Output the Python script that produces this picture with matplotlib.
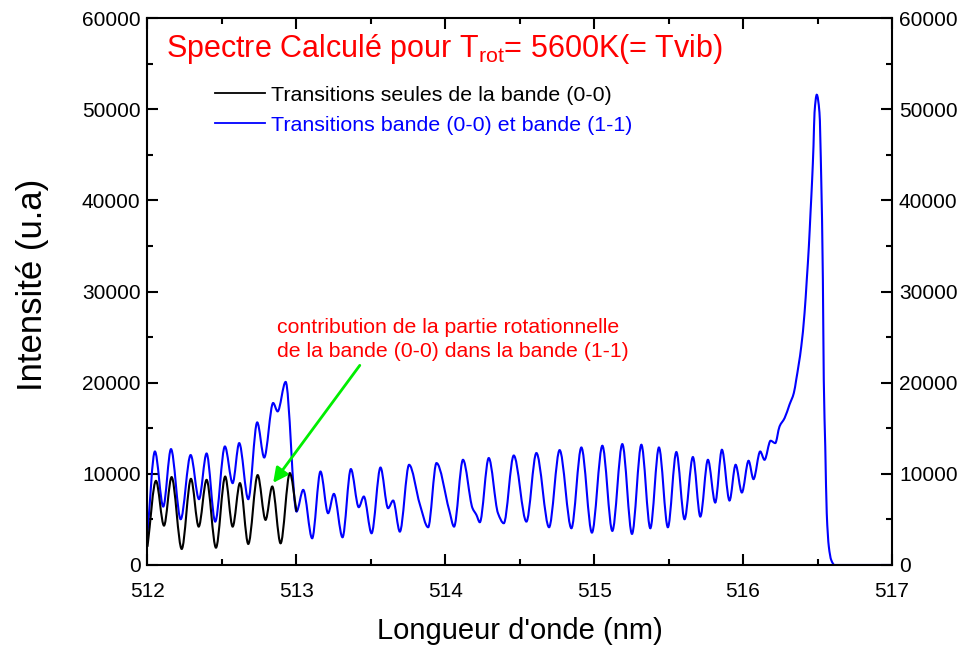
import numpy as np
import matplotlib
matplotlib.use("Agg")
import matplotlib.pyplot as plt
from matplotlib.path import Path
from matplotlib.patches import PathPatch
from matplotlib.lines import Line2D

plt.rcParams['font.family'] = ['Liberation Sans', 'DejaVu Sans']
plt.rcParams['mathtext.fontset'] = 'custom'
plt.rcParams['mathtext.rm'] = 'Liberation Sans'

# ---- data (wavelength nm, intensity u.a.) ----
black_wl = [512.000, 512.057, 512.111, 512.162, 512.230, 512.292, 512.344, 512.397,
            512.460, 512.522, 512.572, 512.621, 512.677, 512.740, 512.793, 512.838,
            512.894, 512.956, 513.001]
black_int = [2000, 9230, 4320, 9640, 1760, 9450, 4210, 9340,
             1900, 9700, 4210, 8980, 2310, 9860, 4950, 8610,
             2380, 10080, 5860]

blue_wl = [512.000, 512.050, 512.106, 512.158, 512.223, 512.290, 512.346, 512.397,
           512.455, 512.520, 512.572, 512.616, 512.677, 512.737, 512.784, 512.844,
           512.874, 512.928, 513.001, 513.046, 513.106, 513.162, 513.213, 513.252,
           513.310, 513.366, 513.419, 513.453, 513.505, 513.565, 513.616, 513.650,
           513.695, 513.757, 513.829, 513.885, 513.941, 514.026, 514.059, 514.119,
           514.183, 514.209, 514.232, 514.292, 514.354, 514.393, 514.460, 514.545,
           514.612, 514.697, 514.768, 514.847, 514.914, 514.985, 515.055, 515.122,
           515.189, 515.254, 515.317, 515.377, 515.435, 515.495, 515.552, 515.607,
           515.663, 515.713, 515.764, 515.813, 515.858, 515.909, 515.950, 515.992,
           516.037, 516.070, 516.115, 516.144, 516.185, 516.216, 516.245, 516.279,
           516.312, 516.341, 516.357, 516.391, 516.413, 516.428, 516.442, 516.453,
           516.464, 516.473, 516.480, 516.495, 516.513, 516.525, 516.536, 516.542,
           516.552, 516.562, 516.576, 516.592, 516.614, 517.000]
blue_int = [3480, 12450, 6410, 12710, 5020, 12060, 7220, 12230,
            4760, 13000, 8980, 13370, 7220, 15640, 11790, 17770,
            16850, 20080, 5860, 8240, 2930, 10250, 5680, 7800,
            3040, 10520, 6340, 7510, 3480, 10690, 6230, 7070,
            3660, 10990, 6670, 4140, 11180, 6040, 4210, 11540,
            6230, 5500, 4690, 11730, 5680, 4580, 12010, 4760,
            12280, 4140, 12600, 4030, 12890, 3550, 13080, 3740,
            13260, 3410, 13190, 4030, 12890, 4140, 12390, 5020,
            11840, 5310, 11540, 6850, 12640, 7070, 10990, 7950,
            11430, 9420, 12450, 11540, 13630, 13370, 15200, 16120,
            17600, 18870, 20330, 23990, 27660, 31320, 34980, 38650,
            42310, 45970, 49640, 51580, 49640, 42310, 31320, 20330,
            13000, 5680, 2010, 550, 0, 0]

x_ticks = [512, 513, 514, 515, 516, 517]
y_ticks = [0, 10000, 20000, 30000, 40000, 50000, 60000]

label_black = "Transitions seules de la bande (0-0)"
label_blue = "Transitions bande (0-0) et bande (1-1)"


def spline_path(x, y):
    """Smooth (monotone cubic Bezier) path through the given points."""
    x = np.asarray(x, float)
    y = np.asarray(y, float)
    h = np.diff(x)
    d = np.diff(y) / h
    m = np.zeros_like(y)
    m[0], m[-1] = d[0], d[-1]
    for k in range(1, len(x) - 1):
        if d[k - 1] * d[k] <= 0:
            m[k] = 0.0
        else:
            w1 = 2 * h[k] + h[k - 1]
            w2 = h[k] + 2 * h[k - 1]
            m[k] = (w1 + w2) / (w1 / d[k - 1] + w2 / d[k])
    verts = [(x[0], y[0])]
    codes = [Path.MOVETO]
    for k in range(len(x) - 1):
        verts += [(x[k] + h[k] / 3, y[k] + m[k] * h[k] / 3),
                  (x[k + 1] - h[k] / 3, y[k + 1] - m[k + 1] * h[k] / 3),
                  (x[k + 1], y[k + 1])]
        codes += [Path.CURVE4] * 3
    return Path(verts, codes)


fig = plt.figure(figsize=(9.76, 6.46), dpi=100)
ax = fig.add_axes([0.1511, 0.1254, 0.7628, 0.8467])

ax.add_patch(PathPatch(spline_path(black_wl, black_int), fill=False,
                       edgecolor='black', lw=1.5, zorder=3))
ax.add_patch(PathPatch(spline_path(blue_wl, blue_int), fill=False,
                       edgecolor='#0000ff', lw=1.5, zorder=2))

ax.set_xlim(512, 517)
ax.set_ylim(0, 60000)
ax.set_xticks(x_ticks)
ax.set_yticks(y_ticks)
ax.set_xticks([512.5, 513.5, 514.5, 515.5, 516.5], minor=True)
ax.set_yticks([5000, 15000, 25000, 35000, 45000, 55000], minor=True)
ax.tick_params(which='both', direction='in', top=True, right=True,
               labelright=True, width=1.5, labelsize=15)
ax.tick_params(axis='x', which='major', pad=12)
ax.tick_params(axis='y', which='major', pad=5)
ax.tick_params(which='major', length=8)
ax.tick_params(which='minor', length=4)
for s in ax.spines.values():
    s.set_linewidth(1.5)

ax.set_xlabel("Longueur d'onde (nm)", fontsize=21, labelpad=12)
ax.set_ylabel("Intensité (u.a)", fontsize=25, labelpad=23.5)
ax.yaxis.label.set_y(0.512)

ax.text(512.124, 56600, r"Spectre Calculé pour T$_{\mathrm{rot}}$= 5600K(= Tvib)",
        color='#ff0000', fontsize=22, va='center', ha='left')

handles = [Line2D([], [], color='black', lw=1.3),
           Line2D([], [], color='#0000ff', lw=1.3)]
ax.legend(handles, [label_black, label_blue], loc='upper left',
          bbox_to_anchor=(0.0907, 0.876), frameon=False, fontsize=15.4,
          handlelength=2.35, handletextpad=0.25, labelspacing=0.52,
          borderpad=0, borderaxespad=0, labelcolor='linecolor')

ax.text(512.869, 24730,
        "contribution de la partie rotationnelle\nde la bande (0-0) dans la bande (1-1)",
        color='#ff0000', fontsize=15.3, ha='left', va='center', linespacing=1.37)
ax.annotate("", xy=(512.844, 9010), xytext=(513.426, 21900),
            arrowprops=dict(arrowstyle='-|>', color='#00ee00', lw=2,
                            mutation_scale=22, shrinkA=0, shrinkB=0))

fig.savefig("out.png", dpi=100)
